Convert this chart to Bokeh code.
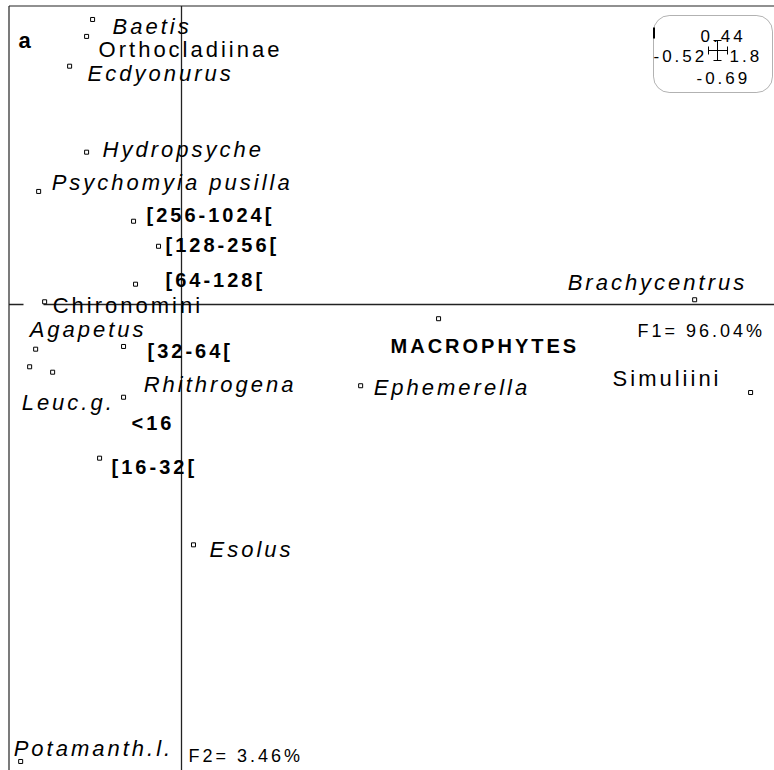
from bokeh.plotting import figure
from bokeh.models import ColumnDataSource, BoxAnnotation
from bokeh.core.properties import value
from bokeh.embed import file_html
from bokeh.resources import INLINE

# ---- data: scores on factorial axes F1 / F2 ----
labels = ["Baetis", "Orthocladiinae", "Ecdyonurus", "Hydropsyche", "Psychomyia pusilla",
          "[256-1024[", "[128-256[", "[64-128[", "Chironomini", "Agapetus",
          "Leuc.g.", "Rhithrogena", "[32-64[", "<16", "[16-32[",
          "Esolus", "Potamanth.l.", "MACROPHYTES", "Ephemerella", "Brachycentrus", "Simuliini"]
f1 = [-0.267, -0.285, -0.336, -0.285, -0.429,
      -0.144, -0.069, -0.138, -0.411, -0.438,
      -0.456, -0.387, -0.174, -0.174, -0.246,
      0.036, -0.483, 0.772, 0.538, 1.541, 1.709]
f2 = [0.421, 0.396, 0.352, 0.225, 0.167,
      0.123, 0.086, 0.030, 0.004, -0.066,
      -0.092, -0.100, -0.062, -0.137, -0.227,
      -0.355, -0.675, -0.021, -0.120, 0.007, -0.130]
style = ["italic", "normal", "italic", "italic", "italic",
         "bold", "bold", "bold", "normal", "italic",
         "italic", "italic", "bold", "bold", "bold",
         "italic", "italic", "bold", "italic", "italic", "normal"]
f1_inertia = "F1= 96.04%"
f2_inertia = "F2= 3.46%"
range_box = {"top": "0.44", "left": "-0.52", "right": "1.8", "bottom": "-0.69"}
panel = "a"

# ---- layout (pixel offsets of labels from their points) ----
dx = [20, 12, 18, 16, 13, 13, 7, 30, 8, -6, -8, 91, 24, 8, 12, 16, -7, -48, 13, -127, -138]
dy = [7, 13, 7, -3, -9, -6, -1, -4, 4, -20, 36, 12, 5, 26, 9, 5, -13, 27, 2, -17, -14]

W, H = 774, 770
SX, SY = 333.0, 677.0   # px per unit
OX, OY = 181.0, 304.0   # position of origin in the figure

def X(px):
    return (px - OX) / SX

def Y(py):
    return (OY - py) / SY

FONT = "Liberation Sans"
INK = "#000000"
LINE = "#222222"

p = figure(width=W, height=H, x_range=(X(0), X(W)), y_range=(Y(H), Y(0)),
           x_axis_type=None, y_axis_type=None, toolbar_location=None,
           output_backend="svg", min_border=0)
p.grid.visible = False
p.outline_line_color = None
p.background_fill_color = "white"
p.styles = {"letter-spacing": "3px"}

# frame (top and left)
p.segment(x0=[X(8.5), X(8.5)], y0=[Y(5.5), Y(5.5)], x1=[X(W), X(8.5)], y1=[Y(5.5), Y(H)],
          line_color=LINE, line_width=1.2)
# origin axes
p.segment(x0=[0, X(8.5), X(43)], y0=[Y(5.5), 0, 0], x1=[0, X(23), X(W)], y1=[Y(H), 0, 0],
          line_color=LINE, line_width=1.3)

src = ColumnDataSource(dict(x=f1, y=f2, label=labels, dx=dx, dy=dy))
p.scatter("x", "y", source=src, marker="square", size=4, fill_color="white",
          line_color="black", line_width=1)

for st in ["italic", "normal", "bold"]:
    idx = [i for i, s in enumerate(style) if s == st]
    s = ColumnDataSource(dict(x=[f1[i] for i in idx], y=[f2[i] for i in idx],
                              label=[labels[i] for i in idx],
                              dx=[dx[i] for i in idx], dy=[dy[i] for i in idx]))
    p.text("x", "y", text="label", source=s, x_offset="dx", y_offset="dy",
           text_font=value(FONT), text_font_size="20px" if st == "bold" else "22px",
           text_font_style=st, text_color=INK,
           text_align="left", text_baseline="alphabetic")

# annotations
p.text(x=[X(188)], y=[Y(755)], text=[f2_inertia], text_font=value(FONT),
       text_font_size="18px", text_align="left", text_baseline="alphabetic", text_color=INK)
p.text(x=[X(637)], y=[Y(330)], text=[f1_inertia], text_font=value(FONT),
       text_font_size="18px", text_align="left", text_baseline="alphabetic", text_color=INK)
p.text(x=[X(18)], y=[Y(40)], text=[panel], text_font=value(FONT), text_font_style="bold",
       text_font_size="22px", text_align="left", text_baseline="alphabetic", text_color=INK)

# range box
p.add_layout(BoxAnnotation(left=X(653), right=X(772), top=Y(15), bottom=Y(92),
                           fill_color=None, line_color="black",
                           line_width=1, border_radius=16))
p.segment(x0=[X(653.5)], y0=[Y(27)], x1=[X(653.5)], y1=[Y(38)], line_color="black", line_width=2)
bx = [X(708), X(717), X(708), X(727), X(713), X(713)]
by = [Y(50), Y(40), Y(46), Y(46), Y(40), Y(60)]
bx1 = [X(727), X(717), X(708), X(727), X(721), X(721)]
by1 = [Y(50), Y(60), Y(54), Y(54), Y(40), Y(60)]
p.segment(x0=bx, y0=by, x1=bx1, y1=by1, line_color=INK, line_width=1)
p.text(x=[X(700), X(653), X(729), X(696)], y=[Y(35), Y(55), Y(55), Y(77)],
       text=[range_box["top"], range_box["left"], range_box["right"], range_box["bottom"]],
       text_font=value(FONT), text_font_size="17px", text_align="left",
       text_baseline="alphabetic", text_color=INK)

open("out.html", "w").write(file_html(p, INLINE))
